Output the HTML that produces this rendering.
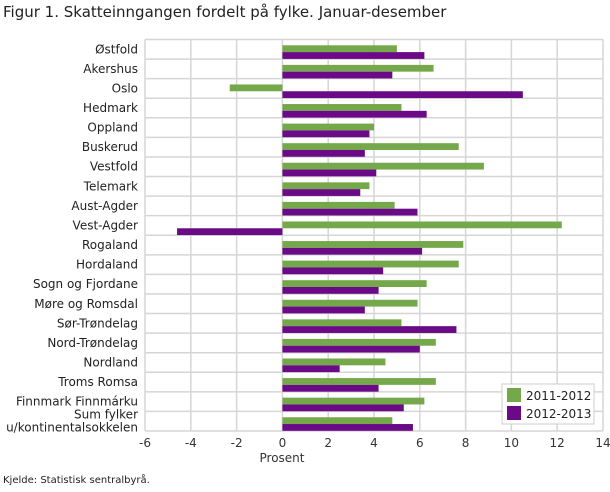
<!DOCTYPE html>
<html><head><meta charset="utf-8"><style>
body{margin:0;background:#fff;font-family:"DejaVu Sans","Liberation Sans",sans-serif;}
svg text{font-family:"DejaVu Sans","Liberation Sans",sans-serif;}
</style></head><body>
<svg id="chart" width="610" height="488" xmlns="http://www.w3.org/2000/svg">
<text x="3" y="17" font-size="15" fill="#222">Figur 1. Skatteinngangen fordelt på fylke. Januar-desember</text>
<g id="grid"></g><g id="bars"></g><g id="labels"></g>
<text x="282" y="462" font-size="12" fill="#333" text-anchor="middle">Prosent</text>
<text x="3" y="483" font-size="10" fill="#222">Kjelde: Statistisk sentralbyrå.</text>
<g>
<rect x="502" y="384" width="92" height="40" fill="#fff" stroke="#ccc"/>
<rect x="507" y="388" width="14" height="14" fill="#75a84b"/>
<text x="526" y="400" font-size="12" fill="#222">2011-2012</text>
<rect x="507" y="406" width="14" height="14" fill="#6a0a86"/>
<text x="526" y="418" font-size="12" fill="#222">2012-2013</text>
</g>
</svg>
<script>
const categories=["Østfold","Akershus","Oslo","Hedmark","Oppland","Buskerud","Vestfold","Telemark","Aust-Agder","Vest-Agder","Rogaland","Hordaland","Sogn og Fjordane","Møre og Romsdal","Sør-Trøndelag","Nord-Trøndelag","Nordland","Troms Romsa","Finnmark Finnmárku","Sum fylker|u/kontinentalsokkelen"];
const series2011=[5.0,6.6,-2.3,5.2,4.0,7.7,8.8,3.8,4.9,12.2,7.9,7.7,6.3,5.9,5.2,6.7,4.5,6.7,6.2,4.8];
const series2012=[6.2,4.8,10.5,6.3,3.8,3.6,4.1,3.4,5.9,-4.6,6.1,4.4,4.2,3.6,7.6,6.0,2.5,4.2,5.3,5.7];
const xTicks=[-6,-4,-2,0,2,4,6,8,10,12,14];
const NS="http://www.w3.org/2000/svg";
const L=145,R=603,T=39.5,B=431,xmin=-6,xmax=14;
const x=v=>L+(v-xmin)/(xmax-xmin)*(R-L);
const rowH=(B-T)/categories.length;
const y=i=>T+i*rowH;
function mk(tag,attrs,parent){const e=document.createElementNS(NS,tag);for(const k in attrs)e.setAttribute(k,attrs[k]);document.getElementById(parent).appendChild(e);return e;}
xTicks.forEach(t=>{
 const g=mk('line',{x1:x(t),x2:x(t),y1:T,y2:B,stroke:'#d6d6d6','stroke-width':1.5},'grid');
 
 
 const tx=mk('text',{x:x(t),y:447,'font-size':12,fill:'#333','text-anchor':'middle'},'labels');
 tx.textContent=t;
 
 
});
for(let i=0;i<=categories.length;i++){
 const g=mk('line',{x1:L,x2:R,y1:y(i),y2:y(i),stroke:'#d6d6d6','stroke-width':1.5},'grid');
 
 
}
categories.forEach((c,i)=>{
 const top=y(i)+5.8,h=6.8;
 const v1=series2011[i],v2=series2012[i];
 const b1=mk('rect',{x:Math.min(x(0),x(v1)),y:top,width:Math.abs(x(v1)-x(0)),height:h,fill:'#75a84b'},'bars');
 
 
 const b2=mk('rect',{x:Math.min(x(0),x(v2)),y:top+h,width:Math.abs(x(v2)-x(0)),height:h,fill:'#6a0a86'},'bars');
 
 
 const parts=c.split('|');
 parts.forEach((p,j)=>{
  const cy=y(i)+rowH/2+4+(parts.length>1?(j-0.5)*13:0);
  const t=mk('text',{x:138,y:cy,'font-size':12,fill:'#222','text-anchor':'end'},'labels');
  t.textContent=p;
  
  
 });
});
</script>
</body></html>
